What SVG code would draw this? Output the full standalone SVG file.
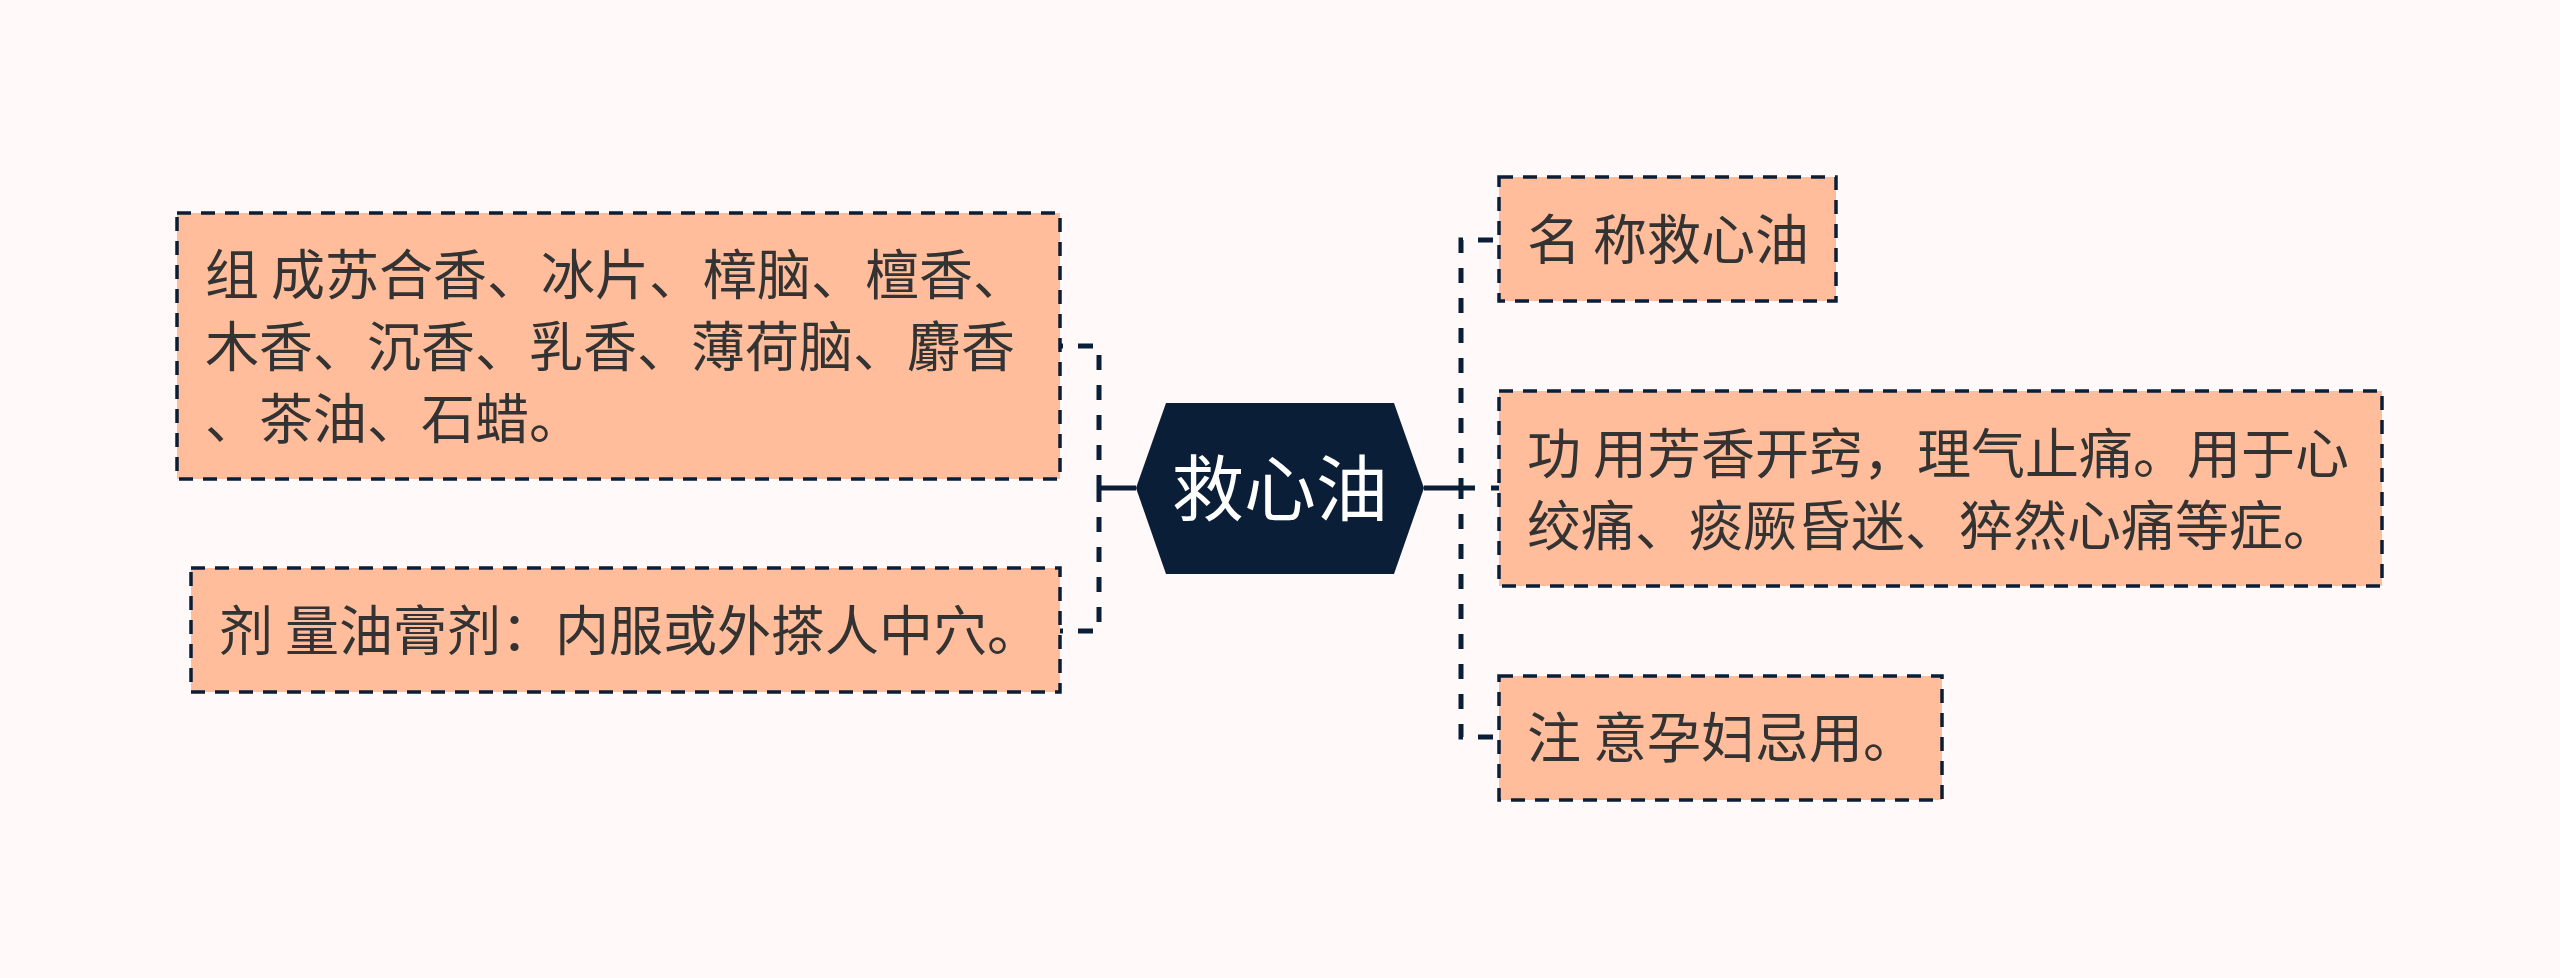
<svg xmlns="http://www.w3.org/2000/svg" width="2560" height="978" viewBox="0 0 2560 978">
<style>
.bg{fill:#fffaf9}
.box{fill:#ffbd9b;stroke:#0b1e37;stroke-width:3.5;stroke-dasharray:14 10}
.t{font-family:"Noto Sans CJK SC","Noto Sans",sans-serif;font-size:54px;fill:#333333}
.ct{font-family:"Noto Sans CJK SC","Noto Sans",sans-serif;font-size:72px;fill:#ffffff;text-anchor:middle}
.c{fill:none;stroke:#0b1e37;stroke-width:5}
.cd{fill:none;stroke:#0b1e37;stroke-width:5;stroke-dasharray:15 15}
</style>
<rect class="bg" x="0" y="0" width="2560" height="978"/>
<g id="connectors">
<path class="c" d="M1101,488 H1136"/>
<path class="c" d="M1424,488 H1475"/>
<path class="cd" stroke-dashoffset="12" d="M1060,346 H1099 V488"/>
<path class="cd" stroke-dashoffset="12" d="M1060,631 H1099 V488"/>
<path class="cd" stroke-dashoffset="24" d="M1499,240 H1461 V488"/>
<path class="cd" stroke-dashoffset="24" d="M1499,737 H1461 V488"/>
<path class="c" d="M1491,488 H1499"/>
</g>
<g id="center">
<polygon points="1136,488 1166,403 1394,403 1424,488 1394,574 1166,574" fill="#0b1e37"/>
<text class="ct" x="1280" y="515">救心油</text>
</g>
<g id="node-zucheng">
<rect class="box" x="177" y="213" width="883" height="266"/>
<text class="t" x="205" y="295">组 成苏合香、冰片、樟脑、檀香、</text>
<text class="t" x="205" y="367">木香、沉香、乳香、薄荷脑、麝香</text>
<text class="t" x="205" y="439">、茶油、石蜡。</text>
</g>
<g id="node-jiliang">
<rect class="box" x="191" y="568" width="869" height="124"/>
<text class="t" x="219" y="651">剂 量油膏剂：内服或外搽人中穴。</text>
</g>
<g id="node-mingcheng">
<rect class="box" x="1499" y="177" width="337" height="124"/>
<text class="t" x="1527" y="260">名 称救心油</text>
</g>
<g id="node-gongyong">
<rect class="box" x="1499" y="391" width="883" height="195"/>
<text class="t" x="1527" y="474">功 用芳香开窍，理气止痛。用于心</text>
<text class="t" x="1527" y="546">绞痛、痰厥昏迷、猝然心痛等症。</text>
</g>
<g id="node-zhuyi">
<rect class="box" x="1499" y="676" width="443" height="124"/>
<text class="t" x="1527" y="758">注 意孕妇忌用。</text>
</g>
</svg>
